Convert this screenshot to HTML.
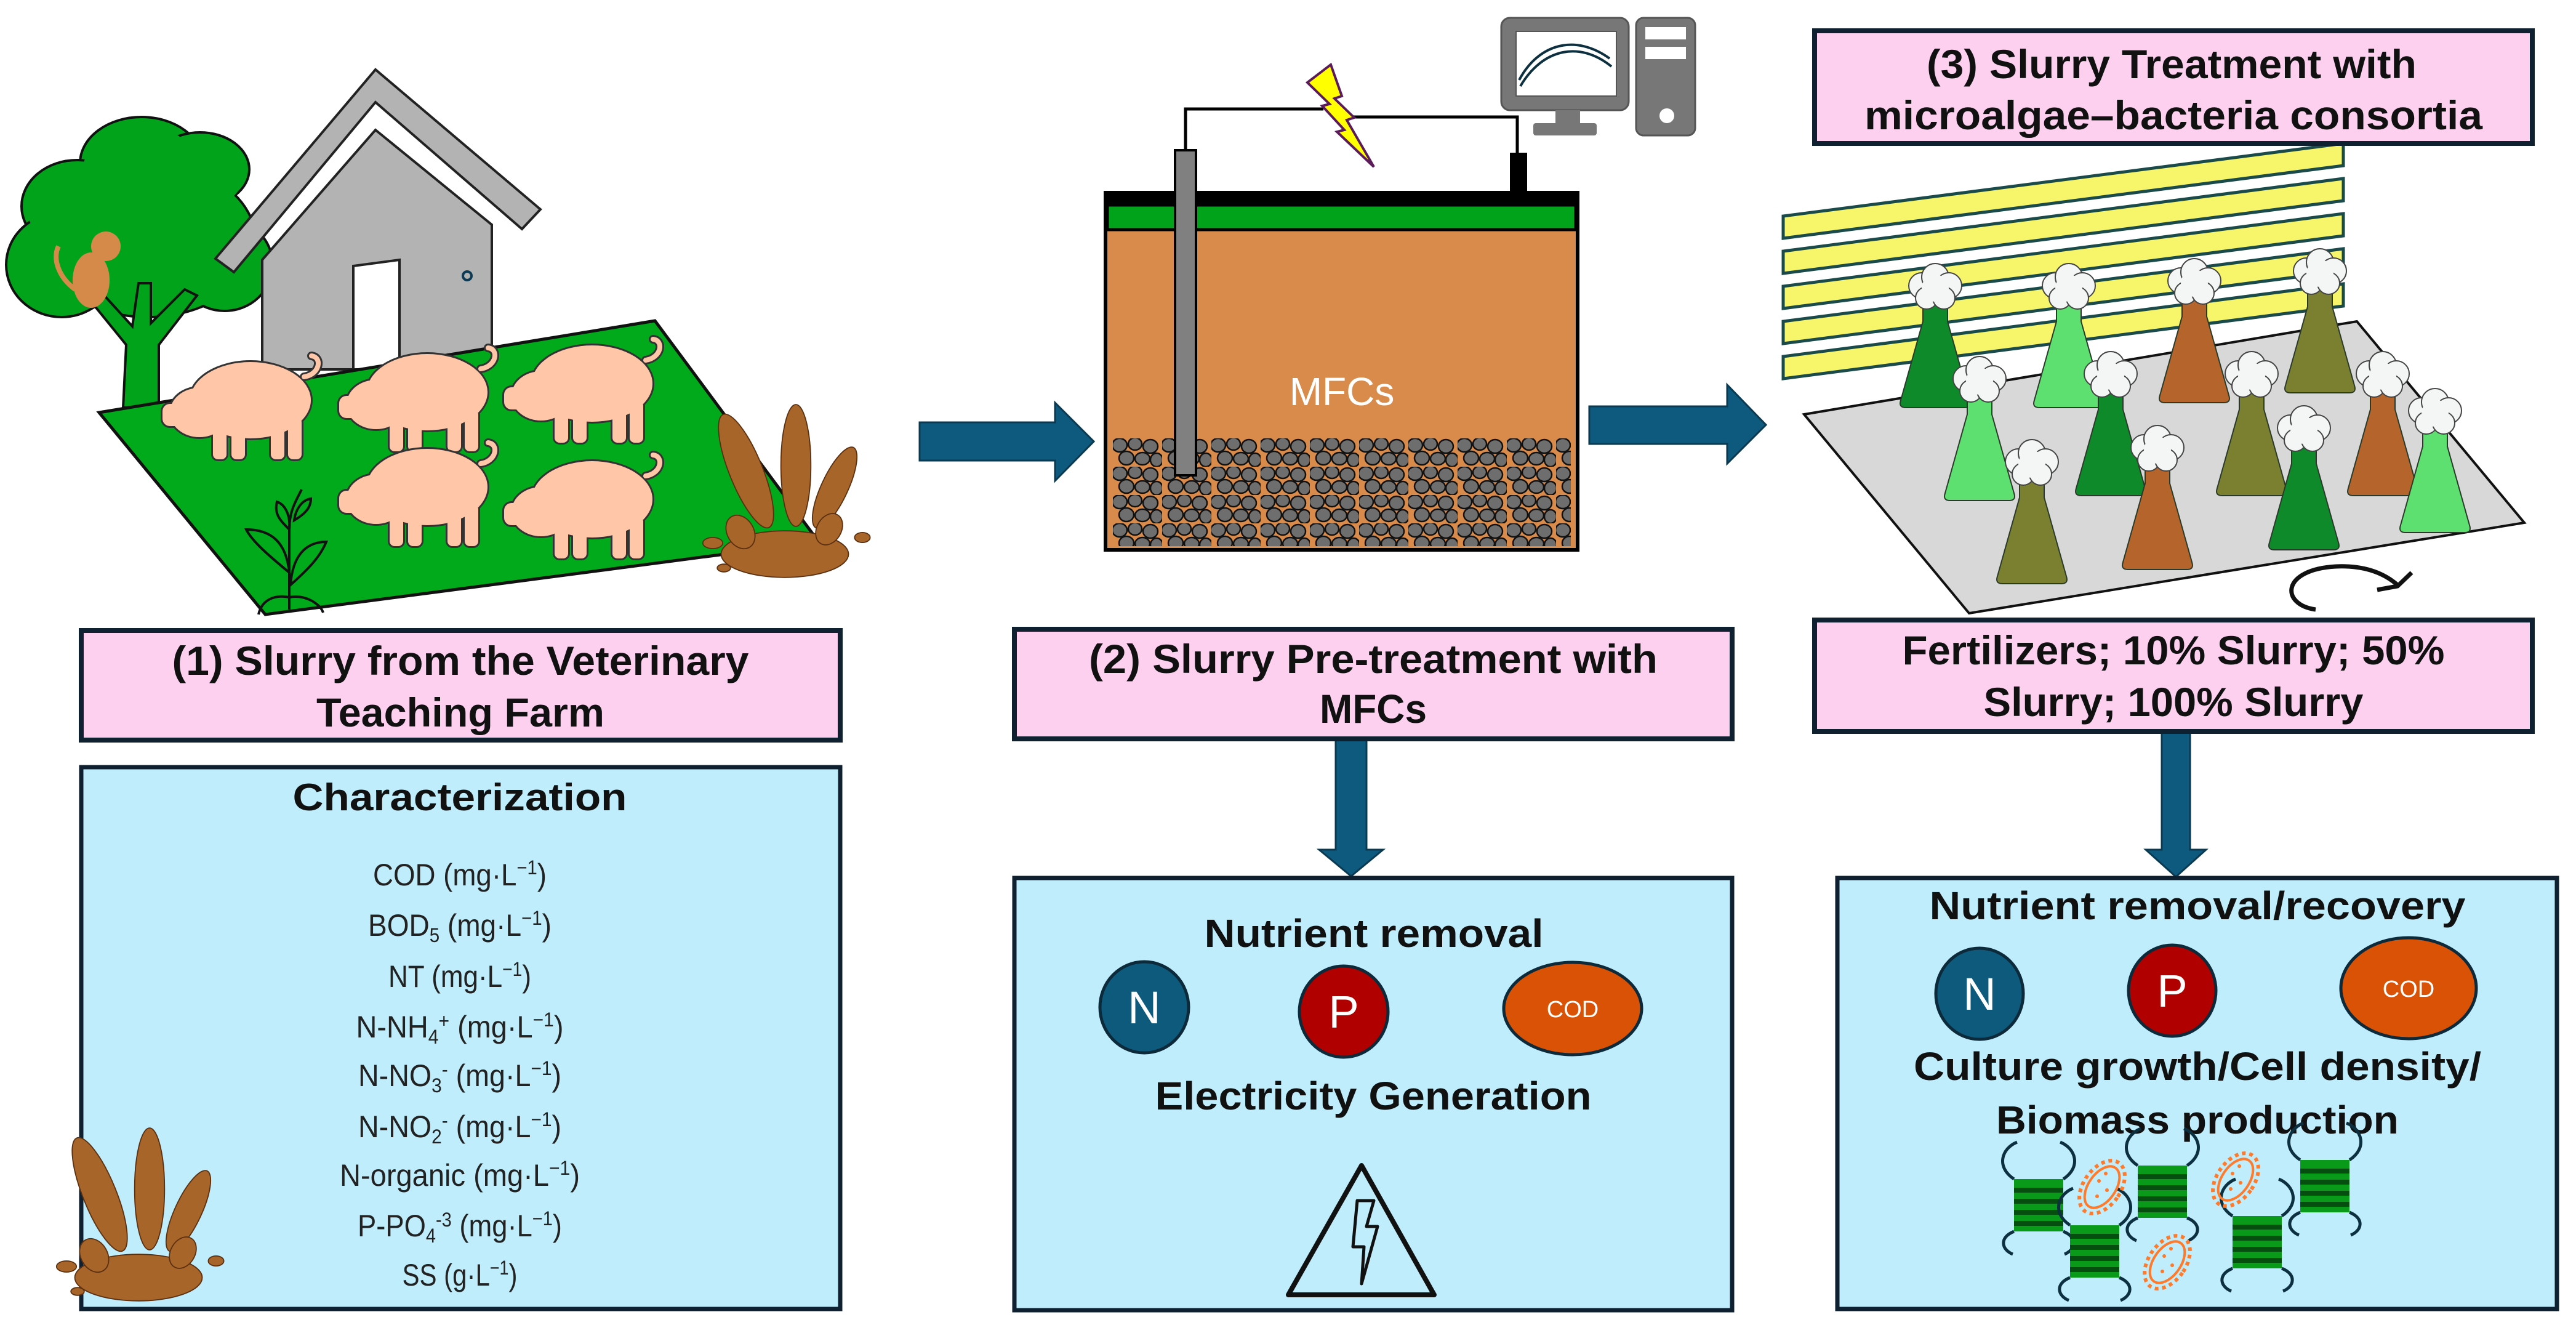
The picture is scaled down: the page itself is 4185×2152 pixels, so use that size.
<!DOCTYPE html>
<html><head><meta charset="utf-8"><style>
html,body{margin:0;padding:0;background:#fff;}
svg{display:block;}
.t{font-family:"Liberation Sans",sans-serif;font-weight:bold;fill:#111;}
.n{font-family:"Liberation Sans Narrow","Liberation Sans",sans-serif;fill:#222;font-size:50px;}
</style></head><body>
<svg width="4185" height="2152" viewBox="0 0 4185 2152" xmlns="http://www.w3.org/2000/svg">
<defs>
<g id="pigshape">
 <ellipse cx="145" cy="72" rx="98" ry="62"/>
 <ellipse cx="62" cy="92" rx="48" ry="40"/>
 <rect x="2" y="78" width="40" height="36" rx="12"/>
 <rect x="84" y="100" width="22" height="68" rx="8"/>
 <rect x="114" y="100" width="22" height="68" rx="8"/>
 <rect x="178" y="100" width="22" height="68" rx="8"/>
 <rect x="206" y="100" width="22" height="68" rx="8"/>
</g>
<g id="pig">
 <use href="#pigshape" fill="#333" stroke="#333" stroke-width="6"/>
 <path d="M232 34 C258 30 262 2 244 0" stroke="#333" stroke-width="14" fill="none" stroke-linecap="round"/>
 <use href="#pigshape" fill="#ffc6a8"/>
 <path d="M232 34 C258 30 262 2 244 0" stroke="#ffc6a8" stroke-width="8" fill="none" stroke-linecap="round"/>
</g>
<pattern id="grav" width="80" height="46" patternUnits="userSpaceOnUse" x="1808" y="712">
 <g fill="#6e6e6e" stroke="#111" stroke-width="2.5">
 <ellipse cx="11" cy="11" rx="12" ry="11"/><ellipse cx="36" cy="9" rx="11" ry="10"/><ellipse cx="61" cy="13" rx="12" ry="11"/>
 <ellipse cx="22" cy="32" rx="12" ry="11"/><ellipse cx="48" cy="33" rx="12" ry="10"/><ellipse cx="71" cy="35" rx="10" ry="11"/>
 </g>
</pattern>
<g id="flask">
 <path d="M-48 0 Q-60 0 -56 -12 L-20 -140 L-20 -180 L20 -180 L20 -140 L56 -12 Q60 0 48 0 Z" stroke="#2a3a2a" stroke-width="2"/>
 <g fill="#f4f6f6" stroke="#444" stroke-width="2">
  <circle cx="-22" cy="-198" r="21"/><circle cx="0" cy="-212" r="22"/><circle cx="22" cy="-198" r="21"/>
  <circle cx="-14" cy="-178" r="18"/><circle cx="14" cy="-178" r="18"/><circle cx="0" cy="-194" r="22" stroke="none"/>
 </g>
</g>
<g id="alg">
 <path d="M0 0 C-30 -20 -20 -50 5 -60 M80 0 C110 -20 100 -50 75 -60 M0 85 C-25 95 -20 115 -2 122 M80 85 C105 95 100 115 82 122" stroke="#0d3040" stroke-width="5" fill="none"/>
 <rect x="0" y="0" width="80" height="85" fill="#0a9a1a"/>
 <g fill="#064d10"><rect x="0" y="14" width="80" height="8"/><rect x="0" y="32" width="80" height="8"/><rect x="0" y="50" width="80" height="8"/><rect x="0" y="68" width="80" height="8"/></g>
</g>
<g id="bac">
 <ellipse cx="0" cy="0" rx="30" ry="48" transform="rotate(35)" fill="none" stroke="#ff7a2a" stroke-width="6" stroke-dasharray="6 6"/>
 <ellipse cx="0" cy="0" rx="22" ry="38" transform="rotate(35)" fill="none" stroke="#ff7a2a" stroke-width="4"/>
 <g fill="#ff7a2a"><circle cx="-5" cy="-10" r="3"/><circle cx="8" cy="5" r="3"/><circle cx="-8" cy="15" r="3"/><circle cx="6" cy="-22" r="3"/></g>
</g>
<g id="splash" fill="#a8652a" stroke="#5a3010" stroke-width="2">
 <ellipse cx="0" cy="0" rx="115" ry="42"/>
 <ellipse cx="-70" cy="-150" rx="30" ry="110" transform="rotate(-22 -70 -150)"/>
 <ellipse cx="20" cy="-160" rx="27" ry="110"/>
 <ellipse cx="90" cy="-120" rx="24" ry="80" transform="rotate(25 90 -120)"/>
 <ellipse cx="-80" cy="-40" rx="24" ry="32" transform="rotate(-30 -80 -40)"/>
 <ellipse cx="80" cy="-45" rx="22" ry="30" transform="rotate(30 80 -45)"/>
 <ellipse cx="-130" cy="-20" rx="18" ry="10"/><ellipse cx="140" cy="-30" rx="14" ry="9"/><ellipse cx="-110" cy="25" rx="12" ry="7"/>
</g>
</defs>

<g fill="#00a31a" stroke="#111" stroke-width="4">
 <ellipse cx="240" cy="390" rx="175" ry="125"/>
 <ellipse cx="230" cy="265" rx="100" ry="75"/><ellipse cx="325" cy="275" rx="80" ry="60"/>
 <ellipse cx="125" cy="335" rx="90" ry="75"/><ellipse cx="100" cy="430" rx="90" ry="85"/>
 <ellipse cx="365" cy="430" rx="78" ry="75"/>
</g>
<g fill="#00a31a" stroke="none">
 <ellipse cx="240" cy="390" rx="173" ry="123"/><ellipse cx="230" cy="275" rx="95" ry="70"/><ellipse cx="320" cy="285" rx="75" ry="55"/>
 <ellipse cx="130" cy="340" rx="85" ry="70"/><ellipse cx="105" cy="430" rx="85" ry="80"/><ellipse cx="360" cy="430" rx="73" ry="70"/>
</g>
<path d="M200 662 L205 560 L140 480 L165 475 L215 530 L225 460 L245 460 L245 525 L300 470 L320 480 L258 560 L258 662 Z" fill="#00a31a" stroke="#111" stroke-width="4"/>
<g fill="#d58a4a" stroke="none">
 <ellipse cx="148" cy="455" rx="30" ry="45"/>
 <circle cx="172" cy="400" r="24"/>
 <path d="M122 470 C95 450 85 420 95 400" stroke="#d58a4a" stroke-width="8" fill="none"/>
</g>
<polygon points="350,420 610,113 878,340 848,372 610,166 380,442" fill="#b3b3b3" stroke="#222" stroke-width="4"/>
<polygon points="426,422 610,211 799,365 799,600 426,600" fill="#b3b3b3" stroke="#222" stroke-width="4"/>
<polygon points="574,432 649,422 649,600 574,600" fill="#fff" stroke="#222" stroke-width="4"/>
<circle cx="759" cy="448" r="7" fill="none" stroke="#0d3a55" stroke-width="4"/>
<polygon points="161,670 1064,521 1330,880 431,998" fill="#00aa1a" stroke="#111" stroke-width="5"/>
<use href="#pig" transform="translate(262,578)"/>
<use href="#pig" transform="translate(549,565)"/>
<use href="#pig" transform="translate(817,551)"/>
<use href="#pig" transform="translate(549,719)"/>
<use href="#pig" transform="translate(817,739)"/>
<g stroke="#111" stroke-width="4" fill="none">
 <path d="M470 990 L470 860 C470 830 480 815 490 795"/>
 <path d="M470 930 C440 905 410 880 400 860 C440 860 465 880 470 930 Z"/>
 <path d="M472 950 C500 925 520 905 530 880 C495 880 475 905 472 950 Z"/>
 <path d="M470 860 C455 845 445 835 450 815 C465 820 472 840 470 860 Z"/>
 <path d="M478 845 C495 835 505 825 505 810 C490 812 480 828 478 845 Z"/>
 <path d="M420 998 C425 975 445 965 470 970 C495 965 520 980 525 995"/>
</g>
<use href="#splash" transform="translate(1275,900) scale(0.9)"/>

<rect x="132" y="1024" width="1233" height="178" fill="#fdd0f0" stroke="#0f2030" stroke-width="8"/>
<text class="t" x="748" y="1096" font-size="66" text-anchor="middle" textLength="937" lengthAdjust="spacingAndGlyphs">(1) Slurry from the Veterinary</text>
<text class="t" x="748" y="1180" font-size="66" text-anchor="middle" textLength="468" lengthAdjust="spacingAndGlyphs">Teaching Farm</text>

<rect x="132" y="1246" width="1233" height="880" fill="#bfedfc" stroke="#0f2030" stroke-width="7"/>
<text class="t" x="747" y="1316" font-size="62" text-anchor="middle" textLength="543" lengthAdjust="spacingAndGlyphs">Characterization</text>
<g class="n" text-anchor="middle">
 <text x="747" y="1438" textLength="282" lengthAdjust="spacingAndGlyphs">COD (mg·L<tspan font-size="32" dy="-18">−1</tspan><tspan dy="18">)</tspan></text>
 <text x="747" y="1520" textLength="298" lengthAdjust="spacingAndGlyphs">BOD<tspan font-size="32" dy="10">5</tspan><tspan dy="-10"> (mg·L</tspan><tspan font-size="32" dy="-18">−1</tspan><tspan dy="18">)</tspan></text>
 <text x="747" y="1603" textLength="232" lengthAdjust="spacingAndGlyphs">NT (mg·L<tspan font-size="32" dy="-18">−1</tspan><tspan dy="18">)</tspan></text>
 <text x="747" y="1685" textLength="337" lengthAdjust="spacingAndGlyphs">N-NH<tspan font-size="32" dy="10">4</tspan><tspan font-size="32" dy="-26">+</tspan><tspan dy="16"> (mg·L</tspan><tspan font-size="32" dy="-18">−1</tspan><tspan dy="18">)</tspan></text>
 <text x="747" y="1764" textLength="330" lengthAdjust="spacingAndGlyphs">N-NO<tspan font-size="32" dy="10">3</tspan><tspan font-size="32" dy="-26">-</tspan><tspan dy="16"> (mg·L</tspan><tspan font-size="32" dy="-18">−1</tspan><tspan dy="18">)</tspan></text>
 <text x="747" y="1847" textLength="330" lengthAdjust="spacingAndGlyphs">N-NO<tspan font-size="32" dy="10">2</tspan><tspan font-size="32" dy="-26">-</tspan><tspan dy="16"> (mg·L</tspan><tspan font-size="32" dy="-18">−1</tspan><tspan dy="18">)</tspan></text>
 <text x="747" y="1926" textLength="390" lengthAdjust="spacingAndGlyphs">N-organic (mg·L<tspan font-size="32" dy="-18">−1</tspan><tspan dy="18">)</tspan></text>
 <text x="747" y="2008" textLength="332" lengthAdjust="spacingAndGlyphs">P-PO<tspan font-size="32" dy="10">4</tspan><tspan font-size="32" dy="-26">-3</tspan><tspan dy="16"> (mg·L</tspan><tspan font-size="32" dy="-18">−1</tspan><tspan dy="18">)</tspan></text>
 <text x="747" y="2088" textLength="187" lengthAdjust="spacingAndGlyphs">SS (g·L<tspan font-size="32" dy="-18">−1</tspan><tspan dy="18">)</tspan></text>
</g>
<use href="#splash" transform="translate(225,2075) scale(0.9)"/>

<g fill="#0d5a7e" stroke="#0a3a52" stroke-width="3">
 <polygon points="1494,686 1714,686 1714,654 1777,717 1714,781 1714,748 1494,748"/>
 <polygon points="2582,660 2806,660 2806,625 2869,690 2806,753 2806,721 2582,721"/>
 <polygon points="2170,1200 2220,1200 2220,1380 2247,1380 2195,1423 2143,1380 2170,1380"/>
 <polygon points="3512,1190 3558,1190 3558,1380 3584,1380 3535,1424 3486,1380 3512,1380"/>
</g>

<polyline points="1926,244 1926,177 2150,177" fill="none" stroke="#000" stroke-width="5"/>
<polyline points="2195,190 2465,190 2465,250" fill="none" stroke="#000" stroke-width="5"/>
<polygon points="2124,134 2162,105 2180,156 2168,160 2200,191 2188,195 2232,271 2172,214 2184,211 2148,172 2160,169" fill="#ffff00" stroke="#5b1a5a" stroke-width="4"/>
<rect x="2439" y="29" width="207" height="150" rx="14" fill="#777" stroke="#555" stroke-width="3"/>
<rect x="2463" y="51" width="163" height="105" fill="#fff" stroke="#555" stroke-width="2"/>
<path d="M2468 130 C2500 70 2560 55 2615 95" stroke="#0d3040" stroke-width="4" fill="none"/>
<path d="M2470 140 C2505 80 2565 65 2618 108" stroke="#0d3040" stroke-width="4" fill="none"/>
<rect x="2527" y="179" width="40" height="24" fill="#777"/>
<rect x="2491" y="200" width="103" height="20" rx="4" fill="#777"/>
<rect x="2658" y="29" width="96" height="191" rx="12" fill="#777" stroke="#555" stroke-width="3"/>
<rect x="2673" y="44" width="66" height="20" fill="#fff"/><rect x="2673" y="76" width="66" height="20" fill="#fff"/>
<circle cx="2708" cy="188" r="12" fill="#fff"/>
<rect x="1796" y="313" width="767" height="580" fill="#d98b4b" stroke="#000" stroke-width="6"/>
<rect x="1796" y="313" width="767" height="20" fill="#000"/>
<rect x="1799" y="333" width="761" height="40" fill="#00a31a" stroke="#000" stroke-width="5"/>
<rect x="1808" y="712" width="744" height="175" fill="url(#grav)"/>
<rect x="1909" y="244" width="34" height="528" fill="#808080" stroke="#000" stroke-width="4"/>
<rect x="2453" y="248" width="28" height="66" fill="#000"/>
<text x="2180" y="658" font-family="Liberation Sans, sans-serif" font-size="64" fill="#fff" text-anchor="middle">MFCs</text>

<rect x="1648" y="1022" width="1166" height="178" fill="#fdd0f0" stroke="#0f2030" stroke-width="8"/>
<text class="t" x="2231" y="1093" font-size="66" text-anchor="middle" textLength="924" lengthAdjust="spacingAndGlyphs">(2) Slurry Pre-treatment with</text>
<text class="t" x="2231" y="1174" font-size="66" text-anchor="middle" textLength="174" lengthAdjust="spacingAndGlyphs">MFCs</text>
<rect x="1648" y="1426" width="1166" height="702" fill="#bfedfc" stroke="#0f2030" stroke-width="7"/>
<text class="t" x="2232" y="1538" font-size="64" text-anchor="middle" textLength="551" lengthAdjust="spacingAndGlyphs">Nutrient removal</text>
<ellipse cx="1859" cy="1636" rx="72" ry="74" fill="#0d5a7d" stroke="#0d2a3a" stroke-width="5"/>
<text x="1859" y="1662" font-family="Liberation Sans, sans-serif" font-size="74" fill="#fff" text-anchor="middle">N</text>
<ellipse cx="2183" cy="1643" rx="72" ry="74" fill="#b00000" stroke="#0d2a3a" stroke-width="5"/>
<text x="2183" y="1669" font-family="Liberation Sans, sans-serif" font-size="74" fill="#fff" text-anchor="middle">P</text>
<ellipse cx="2555" cy="1638" rx="112" ry="75" fill="#d95206" stroke="#0d2a3a" stroke-width="5"/>
<text x="2555" y="1652" font-family="Liberation Sans, sans-serif" font-size="38" fill="#fff" text-anchor="middle">COD</text>
<text class="t" x="2231" y="1802" font-size="64" text-anchor="middle" textLength="709" lengthAdjust="spacingAndGlyphs">Electricity Generation</text>
<polygon points="2212,1893 2093,2103 2330,2103" fill="none" stroke="#111" stroke-width="8" stroke-linejoin="round"/>
<polygon points="2205,1950 2232,1950 2220,1992 2238,1992 2212,2085 2216,2025 2198,2025" fill="none" stroke="#111" stroke-width="5" stroke-linejoin="round"/>

<g fill="#f7f56a" stroke="#1b4a4a" stroke-width="5">
 <polygon points="2897,351 3807,233 3807,269 2897,387"/>
 <polygon points="2897,408 3807,290 3807,326 2897,444"/>
 <polygon points="2897,465 3807,347 3807,383 2897,501"/>
 <polygon points="2897,522 3807,404 3807,440 2897,558"/>
 <polygon points="2897,579 3807,461 3807,497 2897,615"/>
</g>
<polygon points="2931,673 3829,522 4101,849 3199,996" fill="#d8d8d8" stroke="#111" stroke-width="4"/>
<use href="#flask" transform="translate(3144,662)" fill="#0f8a2a"/>
<use href="#flask" transform="translate(3361,662)" fill="#5ee070"/>
<use href="#flask" transform="translate(3565,654)" fill="#b5652b"/>
<use href="#flask" transform="translate(3769,638)" fill="#7a8030"/>
<use href="#flask" transform="translate(3216,813)" fill="#5ee070"/>
<use href="#flask" transform="translate(3429,805)" fill="#0f8a2a"/>
<use href="#flask" transform="translate(3658,805)" fill="#7a8030"/>
<use href="#flask" transform="translate(3871,805)" fill="#b5652b"/>
<use href="#flask" transform="translate(3301,948)" fill="#7a8030"/>
<use href="#flask" transform="translate(3505,925)" fill="#b5652b"/>
<use href="#flask" transform="translate(3743,893)" fill="#0f8a2a"/>
<use href="#flask" transform="translate(3956,865)" fill="#5ee070"/>
<path d="M3762 990 C3705 982 3705 925 3795 920 C3840 918 3872 930 3895 950" fill="none" stroke="#111" stroke-width="7"/>
<polyline points="3862,958 3895,952 3918,930" fill="none" stroke="#111" stroke-width="7"/>

<rect x="2948" y="50" width="1166" height="183" fill="#fdd0f0" stroke="#0f2030" stroke-width="8"/>
<text class="t" x="3528" y="127" font-size="66" text-anchor="middle" textLength="796" lengthAdjust="spacingAndGlyphs">(3) Slurry Treatment with</text>
<text class="t" x="3531" y="210" font-size="66" text-anchor="middle" textLength="1004" lengthAdjust="spacingAndGlyphs">microalgae–bacteria consortia</text>
<rect x="2948" y="1007" width="1166" height="181" fill="#fdd0f0" stroke="#0f2030" stroke-width="8"/>
<text class="t" x="3531" y="1079" font-size="66" text-anchor="middle" textLength="881" lengthAdjust="spacingAndGlyphs">Fertilizers; 10% Slurry; 50%</text>
<text class="t" x="3531" y="1163" font-size="66" text-anchor="middle" textLength="617" lengthAdjust="spacingAndGlyphs">Slurry; 100% Slurry</text>
<rect x="2985" y="1426" width="1169" height="700" fill="#bfedfc" stroke="#0f2030" stroke-width="7"/>
<text class="t" x="3570" y="1493" font-size="64" text-anchor="middle" textLength="871" lengthAdjust="spacingAndGlyphs">Nutrient removal/recovery</text>
<ellipse cx="3216" cy="1614" rx="71" ry="74" fill="#0d5a7d" stroke="#0d2a3a" stroke-width="5"/>
<text x="3216" y="1640" font-family="Liberation Sans, sans-serif" font-size="74" fill="#fff" text-anchor="middle">N</text>
<ellipse cx="3529" cy="1609" rx="71" ry="74" fill="#b00000" stroke="#0d2a3a" stroke-width="5"/>
<text x="3529" y="1635" font-family="Liberation Sans, sans-serif" font-size="74" fill="#fff" text-anchor="middle">P</text>
<ellipse cx="3913" cy="1605" rx="110" ry="82" fill="#d95206" stroke="#0d2a3a" stroke-width="5"/>
<text x="3913" y="1619" font-family="Liberation Sans, sans-serif" font-size="38" fill="#fff" text-anchor="middle">COD</text>
<text class="t" x="3570" y="1754" font-size="64" text-anchor="middle" textLength="922" lengthAdjust="spacingAndGlyphs">Culture growth/Cell density/</text>
<text class="t" x="3570" y="1841" font-size="64" text-anchor="middle" textLength="654" lengthAdjust="spacingAndGlyphs">Biomass production</text>
<use href="#alg" transform="translate(3272,1915)"/>
<use href="#alg" transform="translate(3473,1893)"/>
<use href="#alg" transform="translate(3737,1884)"/>
<use href="#alg" transform="translate(3363,1990)"/>
<use href="#alg" transform="translate(3627,1975)"/>
<use href="#bac" transform="translate(3415,1928)"/>
<use href="#bac" transform="translate(3632,1916)"/>
<use href="#bac" transform="translate(3521,2050)"/>
</svg>
</body></html>
